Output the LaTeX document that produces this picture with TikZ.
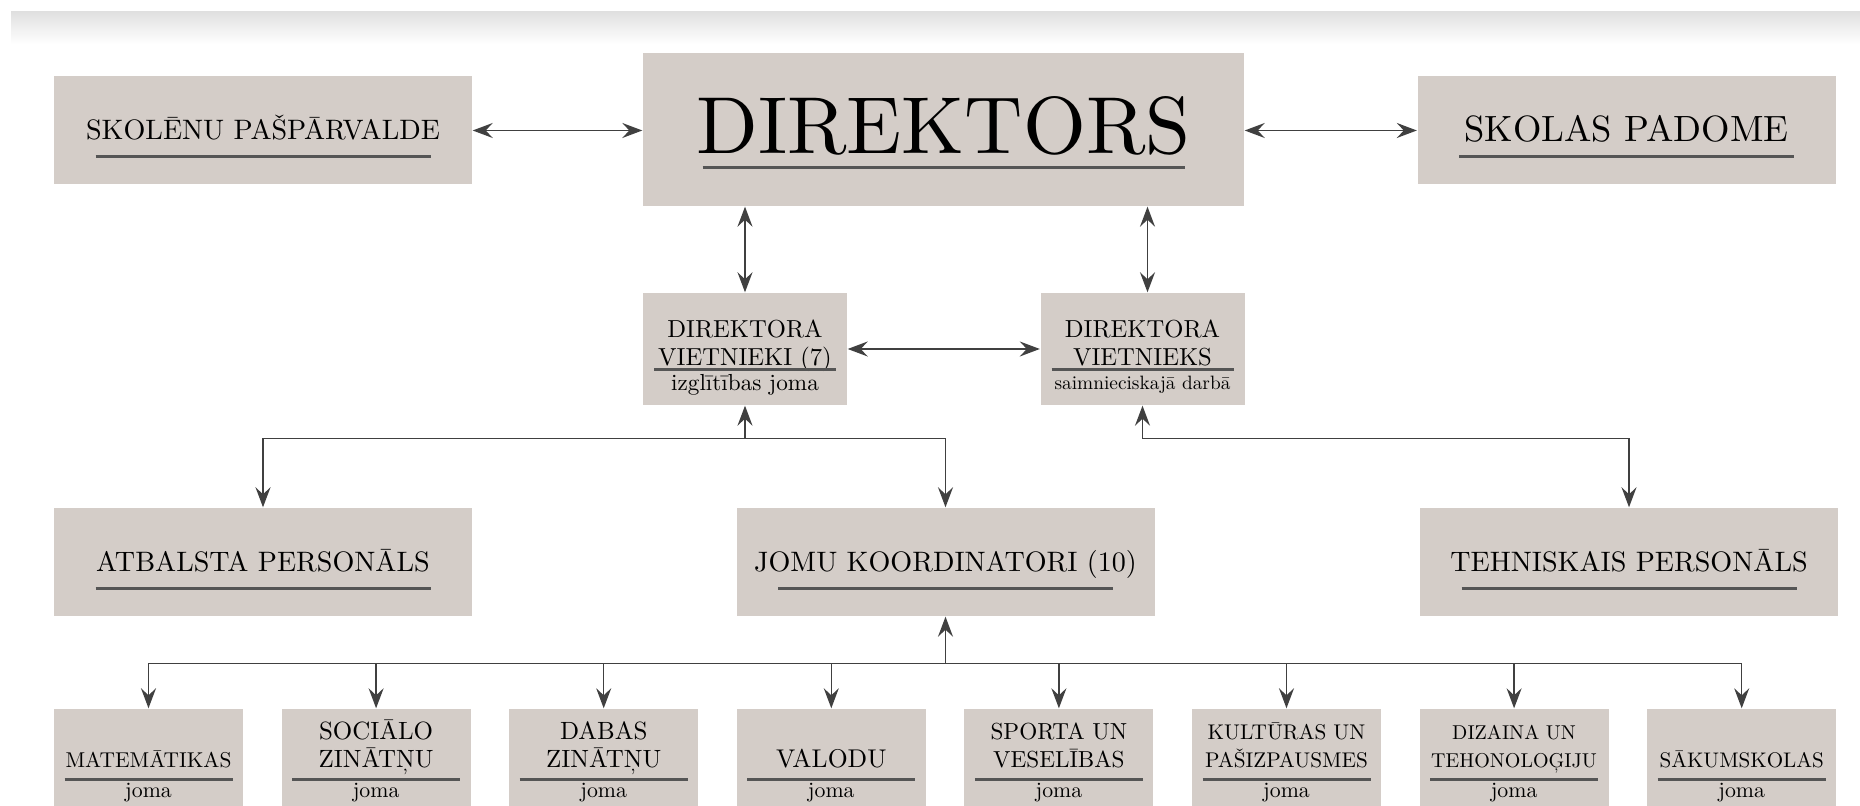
\documentclass[tikz,border=0pt]{standalone}
\usepackage{fontspec}
\setmainfont{lmroman10-regular.otf}
\usepackage{tikz}
\usetikzlibrary{arrows.meta}

\definecolor{boxfill}{RGB}{212,205,200}
\definecolor{rulecol}{RGB}{85,85,85}

\newcommand{\twoline}[2]{\begin{tabular}[b]{@{}c@{}}#1\\#2\end{tabular}}

\tikzset{
  unit/.style={fill=boxfill, inner sep=0pt, text=black},
  bigbox/.style={unit, minimum width=60.1mm, minimum height=15.3mm, text height=4.9mm, text depth=0pt, font=\fontsize{23}{28}\selectfont},
  midbox/.style={unit, minimum width=41.8mm, minimum height=10.8mm, text height=1.9mm, text depth=0pt, font=\fontsize{8}{10}\selectfont},
  depbox/.style={unit, minimum width=20.4mm, minimum height=11.2mm, text height=3.4mm, text depth=0pt, font=\fontsize{7}{8}\selectfont},
  jbox/.style={unit, minimum width=18.9mm, minimum height=11.8mm, text height=0pt, text depth=0pt, font=\fontsize{#1}{8}\selectfont},
  jbox/.default=6.6,
  sub/.style={anchor=base, inner sep=0pt, text=black, font=\fontsize{#1}{8}\selectfont},
  sub/.default=6.2,
  uline/.style={draw=rulecol, line width=0.3mm},
  link/.style={draw=black!75, line width=0.45pt}
}

\begin{document}
\begin{tikzpicture}[x=0.1mm, y=-0.1mm, node distance=22.76mm, >={Stealth[length=2mm,width=1.5mm,inset=0.7mm]}]
  \useasboundingbox (0,0) rectangle (1860,806);
  \clip (0,0) rectangle (1860,806);
  \fill[white] (0,0) rectangle (1860,806);
  \shade[top color=black!12, bottom color=white] (11,12) rectangle (1860,44);

  % top row
  \node[bigbox] (dir) at (943.5,129.5) {DIREKTORS};
  \node[midbox] (spv) at (263,130.5) {SKOLĒNU PAŠPĀRVALDE};
  \node[midbox, text height=2.2mm, font=\fontsize{10.4}{12}\selectfont] (pad) at (1626.5,130.5) {SKOLAS PADOME};

  % deputies
  \node[depbox] (dv1) at (745,349) {\twoline{DIREKTORA}{VIETNIEKI (7)}};
  \node[depbox] (dv2) at (1142.5,349) {\twoline{DIREKTORA}{VIETNIEKS}};
  \node[sub=6.6] (dv1s) at ([shift={(0,42)}]dv1.center) {izglītības joma};
  \node[sub=5.5] (dv2s) at ([shift={(0,41)}]dv2.center) {saimnieciskajā darbā};

  % staff
  \node[midbox] (atb) at (263,562) {ATBALSTA PERSONĀLS};
  \node[midbox] (jom) at (945.5,562) {JOMU KOORDINATORI (10)};
  \node[midbox] (teh) at (1629,562) {TEHNISKAIS PERSONĀLS};

  % domains
  \node[jbox=6.1] (mat) at (148.5,768) {MATEMĀTIKAS};
  \node[jbox=7.1, right of=mat] (soc) {\twoline{SOCIĀLO}{ZINĀTŅU}};
  \node[jbox=7.1, right of=soc] (dab) {\twoline{DABAS}{ZINĀTŅU}};
  \node[jbox=7.3, right of=dab] (val) {VALODU};
  \node[jbox=6.6, right of=val] (spo) {\twoline{SPORTA UN}{VESELĪBAS}};
  \node[jbox=6.05, right of=spo] (kul) {\twoline{KULTŪRAS UN}{PAŠIZPAUSMES}};
  \node[jbox=5.7, right of=kul] (diz) {\twoline{DIZAINA UN}{TEHONOLOĢIJU}};
  \node[jbox=6.0, right of=diz] (sak) {SĀKUMSKOLAS};
  \node[sub] (matj) at ([shift={(0,30)}]mat.center) {joma};
  \node[sub] (socj) at ([shift={(0,30)}]soc.center) {joma};
  \node[sub] (dabj) at ([shift={(0,30)}]dab.center) {joma};
  \node[sub] (valj) at ([shift={(0,30)}]val.center) {joma};
  \node[sub] (spoj) at ([shift={(0,30)}]spo.center) {joma};
  \node[sub] (kulj) at ([shift={(0,30)}]kul.center) {joma};
  \node[sub] (dizj) at ([shift={(0,30)}]diz.center) {joma};
  \node[sub] (sakj) at ([shift={(0,30)}]sak.center) {joma};

  % underlines
  \draw[uline] ([shift={(-241,38.5)}]dir.center) -- ++(482,0);
  \draw[uline] ([shift={(-167.5,26.5)}]spv.center) -- ++(335,0);
  \draw[uline] ([shift={(-167.5,26.5)}]pad.center) -- ++(335,0);
  \draw[uline] ([shift={(-167.5,27)}]atb.center) -- ++(335,0);
  \draw[uline] ([shift={(-167.5,27)}]jom.center) -- ++(335,0);
  \draw[uline] ([shift={(-167.5,27)}]teh.center) -- ++(335,0);
  \draw[uline] ([shift={(-91,21)}]dv1.center) -- ++(182,0);
  \draw[uline] ([shift={(-91,21)}]dv2.center) -- ++(182,0);
  \draw[uline] ([shift={(-84,12)}]mat.center) -- ++(168,0);
  \draw[uline] ([shift={(-84,12)}]soc.center) -- ++(168,0);
  \draw[uline] ([shift={(-84,12)}]dab.center) -- ++(168,0);
  \draw[uline] ([shift={(-84,12)}]val.center) -- ++(168,0);
  \draw[uline] ([shift={(-84,12)}]spo.center) -- ++(168,0);
  \draw[uline] ([shift={(-84,12)}]kul.center) -- ++(168,0);
  \draw[uline] ([shift={(-84,12)}]diz.center) -- ++(168,0);
  \draw[uline] ([shift={(-84,12)}]sak.center) -- ++(168,0);

  % connectors
  \coordinate (b1) at ([shift={(0,33)}]dv1.south);
  \coordinate (b2) at ([shift={(0,33)}]dv2.south);
  \coordinate (b3) at ([shift={(0,47)}]jom.south);
  \draw[link,<->] (spv.east) -- (spv.east -| dir.west);
  \draw[link,<->] (dir.east |- pad.west) -- (pad.west);
  \draw[link,<->] (dir.south -| dv1.north) -- (dv1.north);
  \draw[link,<->] ([xshift=0.5mm]dir.south -| dv2.north) -- ([xshift=0.5mm]dv2.north);
  \draw[link,<->] (dv1.east) -- (dv2.west);
  \draw[link,->] (b1) -- (dv1.south);
  \draw[link,->] (b1) -| (atb.north);
  \draw[link,->] (b1) -| (jom.north);
  \draw[link,->] (b2) -- (dv2.south);
  \draw[link,->] (b2) -| (teh.north);
  \draw[link,->] (b3) -- (jom.south);
  \draw[link,->] (b3) -| (mat.north);
  \draw[link,->] (b3) -| (soc.north);
  \draw[link,->] (b3) -| (dab.north);
  \draw[link,->] (b3) -| (val.north);
  \draw[link,->] (b3) -| (spo.north);
  \draw[link,->] (b3) -| (kul.north);
  \draw[link,->] (b3) -| (diz.north);
  \draw[link,->] (b3) -| (sak.north);
\end{tikzpicture}
\end{document}
